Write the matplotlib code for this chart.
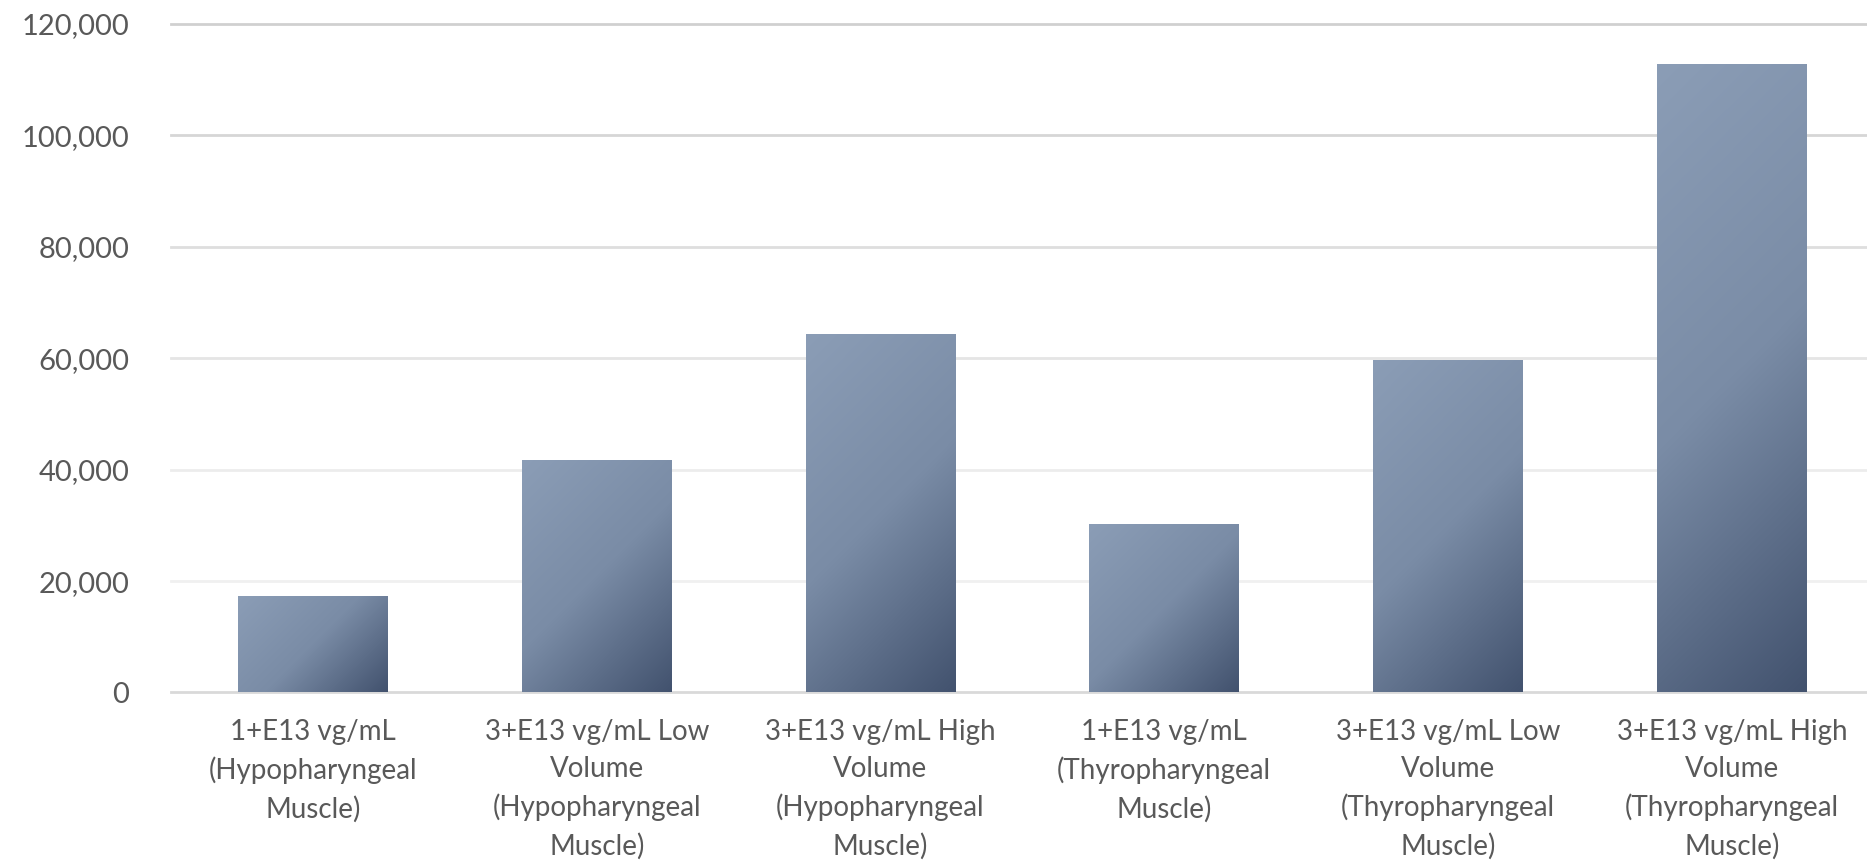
import numpy as np
import matplotlib
matplotlib.use("Agg")
import matplotlib.pyplot as plt
from matplotlib.colors import LinearSegmentedColormap
from matplotlib.ticker import FuncFormatter

categories = [
    "1+E13 vg/mL\n(Hypopharyngeal\nMuscle)",
    "3+E13 vg/mL Low\nVolume\n(Hypopharyngeal\nMuscle)",
    "3+E13 vg/mL High\nVolume\n(Hypopharyngeal\nMuscle)",
    "1+E13 vg/mL\n(Thyropharyngeal\nMuscle)",
    "3+E13 vg/mL Low\nVolume\n(Thyropharyngeal\nMuscle)",
    "3+E13 vg/mL High\nVolume\n(Thyropharyngeal\nMuscle)",
]
values = [17300, 41700, 64400, 30200, 59700, 112800]
y_ticks = [0, 20000, 40000, 60000, 80000, 100000, 120000]

text_color = "#595959"
plt.rcParams["font.family"] = ["Lato", "DejaVu Sans"]

fig = plt.figure(figsize=(18.67, 8.6), dpi=100)
ax = fig.add_axes([0.0916, 0.1948, 0.912, 0.7773])
ax.set_xlim(-0.5, len(values) - 0.5)
ax.set_ylim(0, 120000)

# gridlines fade out towards the bottom
grid_colors = ["#d9d9d9", "#f0f0f0", "#ececec", "#e5e5e5", "#dedede", "#d6d6d6", "#d0d0d0"]
for t, c in zip(y_ticks, grid_colors):
    ax.axhline(t, color=c, lw=2, zorder=1, clip_on=False)

for s in ax.spines.values():
    s.set_visible(False)

cmap = LinearSegmentedColormap.from_list("bar", ["#8b9db6", "#7a8ca6", "#42526e"])
bars = ax.bar(range(len(values)), values, width=0.528, color="none", zorder=2)

fig.canvas.draw()
for b in bars:
    x0, y0 = b.get_x(), b.get_y()
    w, h = b.get_width(), b.get_height()
    p0 = ax.transData.transform((x0, y0))
    p1 = ax.transData.transform((x0 + w, y0 + h))
    wpx, hpx = p1[0] - p0[0], p1[1] - p0[1]
    nx, ny = max(int(wpx), 2), max(int(hpx), 2)
    xx, yy = np.meshgrid(np.linspace(0, wpx, nx), np.linspace(0, hpx, ny))
    # 45 degree gradient: light at top-left, dark at bottom-right
    grad = (xx + yy) / (wpx + hpx)
    im = ax.imshow(grad, cmap=cmap, vmin=0, vmax=1, origin="upper",
                   extent=(x0, x0 + w, y0, y0 + h), aspect="auto",
                   interpolation="bilinear", zorder=2)
    im.set_clip_path(b)

ax.set_xlim(-0.5, len(values) - 0.5)
ax.set_ylim(0, 120000)
ax.set_yticks(y_ticks)
ax.yaxis.set_major_formatter(FuncFormatter(lambda v, p: f"{int(v):,}"))
ax.set_xticks(range(len(values)))
ax.set_xticklabels(categories, linespacing=1.52)
ax.tick_params(axis="y", length=0, pad=30, labelsize=21, labelcolor=text_color)
ax.tick_params(axis="x", length=0, pad=19, labelsize=20, labelcolor=text_color)

fig.savefig("out.png", dpi=100, facecolor="white")
